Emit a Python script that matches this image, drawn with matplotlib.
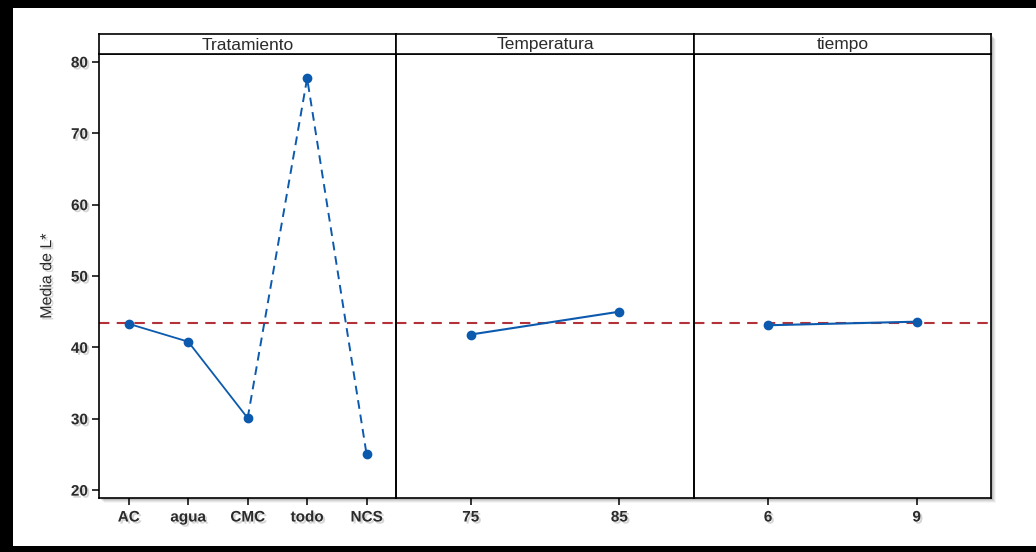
import matplotlib
matplotlib.use("Agg")
import matplotlib.pyplot as plt
from matplotlib.patches import Rectangle
import matplotlib.patheffects as pe

plt.rcParams["font.family"] = ["Liberation Sans", "DejaVu Sans"]

# Main effects data (means of L*)
factors = ["Tratamiento", "Temperatura", "tiempo"]
tratamiento_levels = ["AC", "agua", "CMC", "todo", "NCS"]
tratamiento_means = [43.3, 40.8, 30.1, 77.7, 25.0]
temperatura_levels = ["75", "85"]
temperatura_means = [41.8, 45.0]
tiempo_levels = ["6", "9"]
tiempo_means = [43.1, 43.6]
grand_mean = 43.4
y_ticks = [20, 30, 40, 50, 60, 70, 80]

panels = [
    (tratamiento_levels, tratamiento_means),
    (temperatura_levels, temperatura_means),
    (tiempo_levels, tiempo_means),
]

W, H = 1036, 552
fig = plt.figure(figsize=(W / 100, H / 100), dpi=100)
fig.patch.set_facecolor("white")

blue = "#0B5AAE"
red = "#B3323A"
txt = "#2b2b2b"
shadow = [pe.withSimplePatchShadow(offset=(1.5, -1.5), shadow_rgbFace="#888888", alpha=0.35)]

left_px, right_px = 99, 991
top_px, bottom_px, head_px = 54, 498, 34
pw = (right_px - left_px) / 3

# soft drop shadow behind the panel block
for i, a in enumerate([0.10, 0.08, 0.06, 0.04]):
    off = 2 + i
    fig.patches.append(Rectangle(((left_px + off) / W, 1 - (bottom_px + off) / H),
                                 (right_px - left_px) / W, (bottom_px - head_px) / H,
                                 transform=fig.transFigure, facecolor="black",
                                 edgecolor="none", alpha=a, zorder=-3))
fig.patches.append(Rectangle((left_px / W, 1 - bottom_px / H), (right_px - left_px) / W,
                             (bottom_px - head_px) / H, transform=fig.transFigure,
                             facecolor="white", edgecolor="none", zorder=-2))

axes = []
for k, (levels, means) in enumerate(panels):
    x0 = (left_px + k * pw) / W
    ax = fig.add_axes([x0, 1 - bottom_px / H, pw / W, (bottom_px - top_px) / H])
    ax.set_facecolor("none")
    xs = list(range(len(levels)))
    if k == 0:
        ax.plot(xs[:3], means[:3], color=blue, lw=1.3, zorder=3)
        ax.plot(xs[2:], means[2:], color=blue, lw=1.4, ls=(0, (4.5, 3)), zorder=3)
    else:
        ax.plot(xs, means, color=blue, lw=1.5, zorder=3)
    ax.plot(xs, means, ls="none", marker="o", ms=6, color=blue, zorder=4)
    ax.axhline(grand_mean, color=red, lw=1.5, ls=(0, (5, 3.5)), zorder=2)
    ax.set_xlim(-0.5, len(levels) - 0.5)
    ax.set_ylim(18.9, 81.1)
    ax.set_xticks(xs)
    ax.set_xticklabels(levels, fontsize=11, fontweight="bold", color=txt,
                       path_effects=shadow)
    ax.set_yticks(y_ticks)
    if k == 0:
        ax.set_yticklabels([str(v) for v in y_ticks], fontsize=11, fontweight="bold",
                           color=txt, path_effects=shadow)
        ax.tick_params(axis="y", length=5, width=1.1, color="black", pad=3)
        ax.set_ylabel("Media de L*", fontsize=11.5, color=txt, labelpad=12,
                      path_effects=shadow)
    else:
        ax.tick_params(axis="y", left=False, labelleft=False)
    ax.tick_params(axis="x", length=5, width=1.1, color="black", pad=4)
    for s in ax.spines.values():
        s.set_linewidth(1.2)
        s.set_color("black")
    axes.append(ax)

    hax = fig.add_axes([x0, 1 - top_px / H, pw / W, (top_px - head_px) / H])
    hax.set_xticks([])
    hax.set_yticks([])
    hax.set_facecolor("white")
    for s in hax.spines.values():
        s.set_linewidth(1.2)
        s.set_color("black")
    hax.text(0.5, 0.45, factors[k], ha="center", va="center", fontsize=12.5,
             color=txt, transform=hax.transAxes)

# black frame around the figure
fig.patches.append(Rectangle((0, 0), 13 / W, 1, transform=fig.transFigure,
                             facecolor="black", edgecolor="none", zorder=10))
fig.patches.append(Rectangle((0, 1 - 8 / H), 1, 8 / H, transform=fig.transFigure,
                             facecolor="black", edgecolor="none", zorder=10))
fig.patches.append(Rectangle((0, 0), 1, 6 / H, transform=fig.transFigure,
                             facecolor="black", edgecolor="none", zorder=10))

fig.savefig("out.png", dpi=100, facecolor=fig.get_facecolor())
